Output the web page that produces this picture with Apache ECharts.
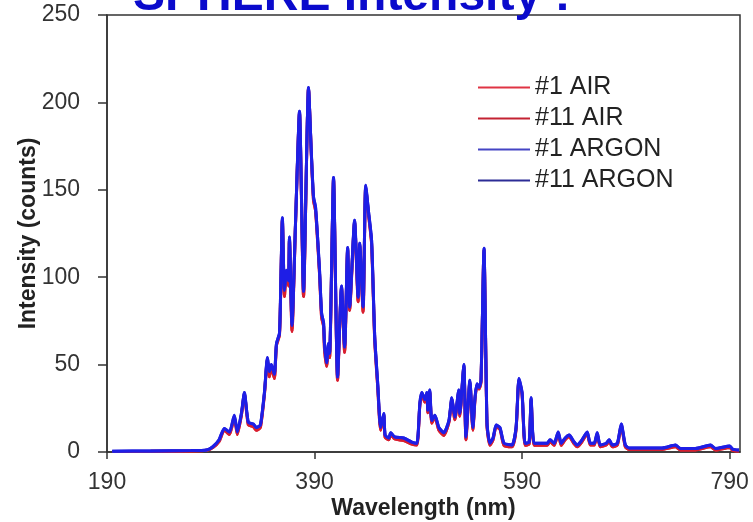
<!DOCTYPE html>
<html>
<head>
<meta charset="utf-8">
<script src="https://cdn.jsdelivr.net/npm/echarts@6/dist/echarts.min.js"></script>
<style>
  html, body { margin: 0; padding: 0; background: #fff; }
  #chart { width: 753px; height: 522px; }
</style>
</head>
<body>
<div id="chart"></div>
<script>
// Wavelength (nm) of each sample
const wavelength = [
  195, 232, 271, 286, 292, 298, 303, 308, 312.7, 315.6, 319.5, 322.4, 326.2, 331, 334, 337.8,
  341.7, 344.6, 346.5, 348.4, 351.3, 353.3, 356.2, 357.6, 359, 361, 362.9, 364.9, 365.8, 368.3,
  371.6, 375.5, 379.4, 384.2, 387, 389, 391, 394.8, 396.8, 398.7, 399.6, 401.6, 403.5, 404.5,
  408.3, 412.2, 416, 419, 421.9, 423.8, 428.6, 432, 433.5, 436.8, 439.3, 442.2, 445, 448,
  450.9, 453.7, 456.7, 458, 461.5, 463.4, 467.3, 476, 483.7, 488.6, 491.5, 493.4, 496.3, 498.2,
  499.2, 501, 503, 506, 509.8, 514.6, 519.5, 522.3, 525.2, 529, 530, 533.9, 535.9, 539.7,
  542.6, 544.6, 546.5, 548.5, 550.4, 553.3, 556.2, 559, 562, 565, 568.7, 572.6, 580.3, 584.2,
  587, 590, 592.9, 596.8, 598.7, 601.6, 609.3, 614.2, 617, 620.9, 624.8, 627.7, 631.5, 635.4,
  640.2, 643.1, 647, 652.8, 655.7, 659.5, 662.4, 665.3, 671.1, 674, 677, 681.8, 685.6, 689.5,
  693.3, 706, 725, 737.8, 742.6, 757, 771.6, 776.4, 790, 792.9, 799
];

// counts, argon runs (blue, drawn on top)
const argonCounts = [
  0.5, 0.6, 0.8, 1.2, 3, 7, 13.5, 11.5, 21, 11.5, 22, 34, 17, 16, 14, 15.5,
  34, 54, 46, 50, 44.5, 62, 68, 100, 134, 92.5, 104, 98, 123, 72.5,
  130, 195, 92, 208.5, 170, 146, 140, 104, 79.5, 74, 62, 51, 62, 56.5,
  157, 43, 95, 60, 117, 83, 132.6, 88.6, 119.4, 83, 152.6, 136.6, 121, 66,
  39, 14, 22, 9.7, 8, 11, 8.6, 8, 5.7, 5, 28, 34, 30, 34,
  24, 35.5, 18, 21, 14, 11, 18, 31, 20, 35.5, 22, 50, 8.6, 41,
  14, 31, 39, 37, 41, 116.6, 16.6, 5, 8, 15.4, 14, 5, 4, 14,
  42, 34, 5, 5.7, 31, 5, 5, 5, 7, 5, 11.4, 5, 8, 9.7,
  5.7, 4, 6.3, 11.4, 5, 5, 11, 4, 5, 7, 4, 5, 16, 4,
  2.3, 2.3, 2.3, 4, 2, 2, 4, 2, 3.4, 1.7, 1.1
];

// counts, air runs (red, a touch lower in the dips)
const airCounts = [
  0.3, 0.4, 0.6, 1, 2.5, 6, 12.5, 10, 20, 10, 21, 33, 15.5, 14.5, 12.5, 14,
  33, 53, 43, 49, 42, 61, 67, 98, 133, 89, 103, 95, 122, 69,
  129, 194, 89, 208, 169, 144, 138, 102, 77, 72, 59, 49, 60, 54,
  156, 41, 94, 57, 116, 81, 131.6, 86, 118.4, 80, 151.6, 135, 119, 64,
  37, 12.5, 21, 8.5, 7, 10, 7.5, 6.5, 4.5, 4, 27, 33, 28.5, 33,
  22.5, 34.5, 16.5, 20, 12.5, 9.5, 17, 30, 18.5, 34.5, 20.5, 49, 7, 40,
  12.5, 30, 38, 36, 40, 115.6, 15, 3.8, 7, 14.5, 13, 3.8, 3, 13,
  41, 33, 3.8, 4.5, 30, 3.8, 3.8, 3.8, 6, 3.8, 10.5, 3.8, 7, 8.7,
  4.7, 3, 5.3, 10.5, 4, 4, 10, 3, 4, 6, 3, 4, 15, 3,
  1.5, 1.5, 1.5, 3, 1.2, 1.2, 3, 1.2, 2.6, 1, 0.6
];

const xTicks = [190, 390, 590, 790];
const seriesNames = ['#1 AIR', '#11 AIR', '#1 ARGON', '#11 ARGON'];

const chart = echarts.init(document.getElementById('chart'));

const toPairs = counts => wavelength.map((w, i) => [w, counts[i]]);
const lineColors = ['#e0283c', '#d81e2e', '#3232d8', '#1e1ee6'];
const legendColors = ['#e03444', '#c42232', '#4444c4', '#2c2c96'];
const seriesData = [airCounts, airCounts, argonCounts, argonCounts];

const font = "'Liberation Sans', Arial, sans-serif";

const option = {
    animation: false,
    title: {
        text: 'SPHERE Intensity :',
        left: 128,
        top: -32,
        textStyle: {
            fontFamily: font,
            fontSize: 48,
            fontWeight: 'bold',
            color: '#0a0acc'
        }
    },
    legend: {
        orient: 'vertical',
        left: 473,
        top: 70,
        icon: 'rect',
        itemWidth: 52,
        itemHeight: 2,
        itemGap: 6,
        textStyle: { fontFamily: font, fontSize: 25, color: '#222' },
        data: seriesNames.map((n, i) => ({ name: n, itemStyle: { color: legendColors[i] } }))
    },
    grid: {
        left: 107,
        right: 13,
        top: 15,
        bottom: 70,
        outerBoundsMode: 'none',
        show: true,
        borderColor: '#333',
        borderWidth: 1.5
    },
    xAxis: {
        type: 'value',
        min: 190,
        max: 800,
        interval: 200,
        name: 'Wavelength (nm)',
        nameLocation: 'middle',
        nameGap: 45,
        nameMoveOverlap: false,
        nameTextStyle: { fontFamily: font, fontSize: 23, fontWeight: 'bold', color: '#222' },
        axisLine: { lineStyle: { color: '#333', width: 1.5 } },
        axisTick: { length: 7, lineStyle: { color: '#333', width: 1.5 }, customValues: xTicks },
        axisLabel: { fontFamily: font, fontSize: 23, color: '#333', margin: 19, customValues: xTicks },
        splitLine: { show: false }
    },
    yAxis: {
        type: 'value',
        min: 0,
        max: 250,
        interval: 50,
        name: 'Intensity (counts)',
        nameLocation: 'middle',
        nameGap: 67,
        nameMoveOverlap: false,
        nameTextStyle: { fontFamily: font, fontSize: 23, fontWeight: 'bold', color: '#222' },
        axisLine: { show: true, lineStyle: { color: '#333', width: 1.5 } },
        axisTick: { show: true, length: 9, lineStyle: { color: '#333', width: 1.5 } },
        axisLabel: { fontFamily: font, fontSize: 23, color: '#333', margin: 27 },
        splitLine: { show: false }
    },
    series: seriesNames.map((n, i) => ({
        name: n,
        type: 'line',
        data: toPairs(seriesData[i]),
        showSymbol: false,
        smooth: 0.2,
        lineStyle: { color: lineColors[i], width: 3 },
        itemStyle: { color: lineColors[i] }
    }))
};

chart.setOption(option);

window.addEventListener('resize', () => chart.resize());
</script>
</body>
</html>
